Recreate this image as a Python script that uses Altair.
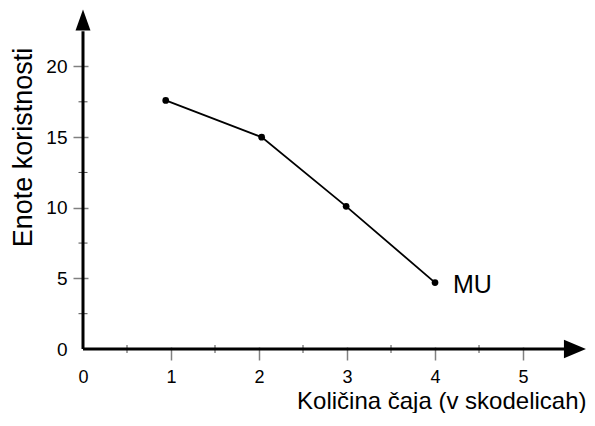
import altair as alt
import pandas as pd

# data
cups = [0.94, 2.03, 2.99, 4.0]
utility = [17.6, 15.0, 10.1, 4.7]
curve_label = "MU"
x_major = [0, 1, 2, 3, 4, 5]
y_major = [0, 5, 10, 15, 20]
x_minor = [0.5, 1.5, 2.5, 3.5, 4.5]
y_minor = [2.5, 7.5, 12.5, 17.5]
x_title = "Količina čaja (v skodelicah)"
y_title = "Enote koristnosti"
x_end = 5.466   # axis line end (arrow base)
y_end = 22.5
x_arrow = 5.59
y_arrow = 23.29

FONT = "Liberation Sans"

df = pd.DataFrame({"x": cups, "y": utility})
axes_df = pd.DataFrame({"x": [0, 0], "x2": [x_end, 0], "y": [0, 0], "y2": [0, y_end]})
xminor_df = pd.DataFrame({"x": x_minor, "y": [0] * len(x_minor)})
yminor_df = pd.DataFrame({"x": [0] * len(y_minor), "y": y_minor})
xarrow_df = pd.DataFrame({"x": [x_arrow], "y": [0]})
yarrow_df = pd.DataFrame({"x": [0], "y": [y_arrow]})
label_df = pd.DataFrame({"x": [cups[-1]], "y": [utility[-1]], "t": [curve_label]})

hide_zero = {"condition": {"test": "datum.value === 0", "value": "transparent"}, "value": "#808080"}

xscale = alt.Scale(domain=[0, 5.727], nice=False, zero=False)
yscale = alt.Scale(domain=[0, 24], nice=False, zero=False)

xaxis = alt.Axis(values=x_major, domain=False, grid=False, tickColor=hide_zero,
                 tickSize=13, tickWidth=1.5, offset=-2, labelFont=FONT, labelFontSize=18,
                 labelColor="black", labelBaseline="alphabetic", labelPadding=22, labelFlush=False,
                 title=x_title, titleFont=FONT, titleFontSize=24, titleFontWeight="normal",
                 titleColor="black", titleAlign="right", titleAnchor="end",
                 titleX=503, titleY=61, titleBaseline="alphabetic", format="d")
yaxis = alt.Axis(values=y_major, domain=False, grid=False, tickColor=hide_zero,
                 tickSize=15, tickWidth=1.5, offset=-5, labelFont=FONT, labelFontSize=19,
                 labelColor="black", labelPadding=6, labelFlush=False,
                 title=y_title, titleFont=FONT, titleFontSize=27, titleFontWeight="normal",
                 titleColor="black", titleAngle=270, titleAlign="center",
                 titleX=-57, titleY=137, titleBaseline="alphabetic", format="d")

base_axes = alt.Chart(axes_df).mark_rule(color="black", strokeWidth=3).encode(
    x=alt.X("x:Q", scale=xscale, axis=xaxis),
    x2="x2:Q",
    y=alt.Y("y:Q", scale=yscale, axis=yaxis),
    y2="y2:Q",
)

xarrow = alt.Chart(xarrow_df).mark_point(
    shape="M-1,-0.83L1,0L-1,0.83Z", size=484, filled=True, color="black", opacity=1, strokeWidth=0
).encode(x="x:Q", y="y:Q")

yarrow = alt.Chart(yarrow_df).mark_point(
    shape="M-0.68,0.95L0,-0.95L0.68,0.95Z", size=484, filled=True, color="black", opacity=1, strokeWidth=0
).encode(x="x:Q", y="y:Q")

xminor = alt.Chart(xminor_df).mark_tick(orient="vertical", size=8, thickness=1, color="black").encode(
    x="x:Q", y="y:Q")
yminor = alt.Chart(yminor_df).mark_tick(orient="horizontal", size=9, thickness=1, color="black").encode(
    x="x:Q", y="y:Q")

line = alt.Chart(df).mark_line(color="black", strokeWidth=1.8).encode(x="x:Q", y="y:Q")
pts = alt.Chart(df).mark_circle(color="black", size=45, opacity=1).encode(x="x:Q", y="y:Q")

label = alt.Chart(label_df).mark_text(
    align="left", baseline="middle", dx=18, dy=2, font=FONT, fontSize=25, color="black"
).encode(x="x:Q", y="y:Q", text="t:N")

chart = alt.layer(base_axes, xminor, yminor, line, pts, xarrow, yarrow, label).properties(
    width=504, height=339,
    padding={"left": 75, "top": 2, "right": 0, "bottom": 64},
    autosize=alt.AutoSizeParams(type="none"),
).configure_view(stroke="white", strokeWidth=0, strokeOpacity=0, fill="white").configure_axis(
    grid=False, domain=False
).configure(background="white", style={"cell": {"stroke": "white", "strokeWidth": 0}})

chart.save("out.html", embed_options={"renderer": "svg", "actions": False})
